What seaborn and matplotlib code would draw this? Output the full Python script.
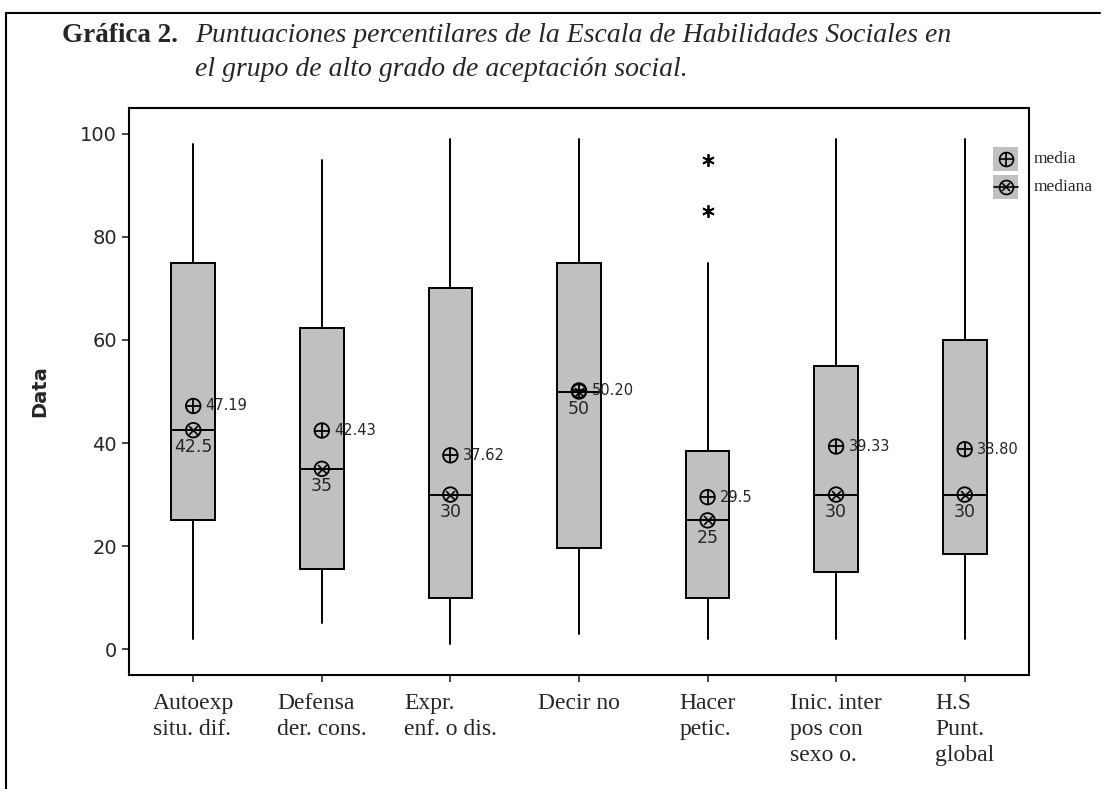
import matplotlib
matplotlib.use("Agg")
import matplotlib.pyplot as plt
import seaborn as sns
import pandas as pd
from matplotlib.lines import Line2D
from matplotlib.patches import Rectangle

# data (percentile scores)
categories = ["Autoexp\nsitu. dif.", "Defensa\nder. cons.", "Expr.\nenf. o dis.", "Decir no",
              "Hacer\npetic.", "Inic. inter\npos con\nsexo o.", "H.S\nPunt.\nglobal"]
whis_low = [2, 5, 1, 3, 2, 2, 2]
q1 = [25, 15.5, 10, 19.7, 10, 15, 18.5]
medians = [42.5, 35, 30, 50, 25, 30, 30]
q3 = [75, 62.3, 70, 75, 38.5, 55, 60]
whis_high = [98, 95, 99, 99, 75, 99, 99]
means = [47.19, 42.43, 37.62, 50.20, 29.5, 39.33, 38.80]
mean_labels = ["47.19", "42.43", "37.62", "50.20", "29.5", "39.33", "38.80"]
median_labels = ["42.5", "35", "30", "50", "25", "30", "30"]
outliers = {5: [95, 85]}

sns.set_style("white")
plt.rcParams["font.family"] = ["DejaVu Sans"]

fig = plt.figure(figsize=(11.05, 7.89), dpi=100)
ax = fig.add_axes([0.1167, 0.1445, 0.8145, 0.7186])

pos = list(range(1, len(categories) + 1))
stats = []
for i, p in enumerate(pos):
    stats.append({"med": medians[i], "q1": q1[i], "q3": q3[i],
                  "whislo": whis_low[i], "whishi": whis_high[i],
                  "fliers": outliers.get(p, []), "label": categories[i]})

ax.bxp(stats, positions=pos, widths=0.34, patch_artist=True, showcaps=False,
       boxprops=dict(facecolor="#c0c0c0", edgecolor="black", linewidth=1.4),
       medianprops=dict(color="black", linewidth=1.4),
       whiskerprops=dict(color="black", linewidth=1.4),
       flierprops=dict(marker=(6, 2, 0), markersize=9, markeredgecolor="black",
                       markeredgewidth=1.3, linestyle="none"))

df = pd.DataFrame({"pos": pos, "mean": means, "median": medians})
# media: circle with plus
sns.scatterplot(data=df, x="pos", y="mean", marker="o", s=110, facecolors="none",
                edgecolor="black", linewidth=1.3, ax=ax, zorder=5)
sns.scatterplot(data=df, x="pos", y="mean", marker="+", s=110, color="black",
                linewidth=1.3, ax=ax, zorder=5)
# mediana: circle with cross
sns.scatterplot(data=df, x="pos", y="median", marker="o", s=110, facecolors="none",
                edgecolor="black", linewidth=1.3, ax=ax, zorder=5)
sns.scatterplot(data=df, x="pos", y="median", marker="x", s=40, color="black",
                linewidth=1.2, ax=ax, zorder=5)

for p, m, t in zip(pos, means, mean_labels):
    ax.annotate(t, (p, m), xytext=(9, 0), textcoords="offset points",
                ha="left", va="center", fontsize=10.5)
for p, m, t in zip(pos, medians, median_labels):
    ax.annotate(t, (p, m), xytext=(0, -6), textcoords="offset points",
                ha="center", va="top", fontsize=12.5)

ax.set_xlim(0.5, 7.5)
ax.set_ylim(-5, 105)
ax.set_yticks([0, 20, 40, 60, 80, 100])
ax.set_xticks(pos)
ax.set_xticklabels(categories, family="Liberation Serif", fontsize=17,
                   multialignment="left", linespacing=1.3)
ax.tick_params(axis="y", labelsize=14, length=5, width=1.2, direction="out", left=True)
ax.tick_params(axis="x", length=5, width=1.2, direction="out", bottom=True, pad=8)
ax.set_ylabel("Data", fontsize=14, fontweight="bold", labelpad=22)
ax.set_xlabel("")
for s in ax.spines.values():
    s.set_color("black")
    s.set_linewidth(1.5)

# legend drawn in figure pixels
W, H = 1105, 789
def fx(x):
    return x / W
def fy(y):
    return 1 - y / H
for yc, kind, txt in [(159, "mean", "media"), (187, "median", "mediana")]:
    fig.add_artist(Rectangle((fx(993), fy(yc + 12)), 25 / W, 24 / H,
                             transform=fig.transFigure, facecolor="#c0c0c0",
                             edgecolor="none"))
    fig.add_artist(Line2D([fx(1006)], [fy(yc)], marker="o", markersize=10,
                          markerfacecolor="none", markeredgecolor="black",
                          markeredgewidth=1.2, transform=fig.transFigure))
    if kind == "mean":
        fig.add_artist(Line2D([fx(1006)], [fy(yc)], marker="+", markersize=10,
                              color="black", markeredgewidth=1.2,
                              transform=fig.transFigure))
    else:
        fig.add_artist(Line2D([fx(1006)], [fy(yc)], marker="x", markersize=6,
                              color="black", markeredgewidth=1.1,
                              transform=fig.transFigure))
        fig.add_artist(Line2D([fx(994), fx(1018)], [fy(yc), fy(yc)], color="black",
                              linewidth=1.2, transform=fig.transFigure))
    fig.text(fx(1034), fy(yc), txt, family="Liberation Serif", fontsize=12.5,
             va="center", ha="left")

# title
fig.text(fx(62), fy(36), "Gráfica 2.", family="Liberation Serif", fontweight="bold",
         fontsize=19.5, va="center", ha="left")
fig.text(fx(195), fy(36), "Puntuaciones percentilares de la Escala de Habilidades Sociales en",
         family="Liberation Serif", style="italic", fontsize=20, va="center", ha="left")
fig.text(fx(195), fy(69), "el grupo de alto grado de aceptación social.",
         family="Liberation Serif", style="italic", fontsize=20, va="center", ha="left")

# outer frame
fig.add_artist(Line2D([fx(6), fx(1100)], [fy(13), fy(13)], color="black", linewidth=1.5,
                      transform=fig.transFigure))
fig.add_artist(Line2D([fx(6), fx(6)], [fy(13), 0], color="black", linewidth=1.5,
                      transform=fig.transFigure))

fig.savefig("out.png", dpi=100)
